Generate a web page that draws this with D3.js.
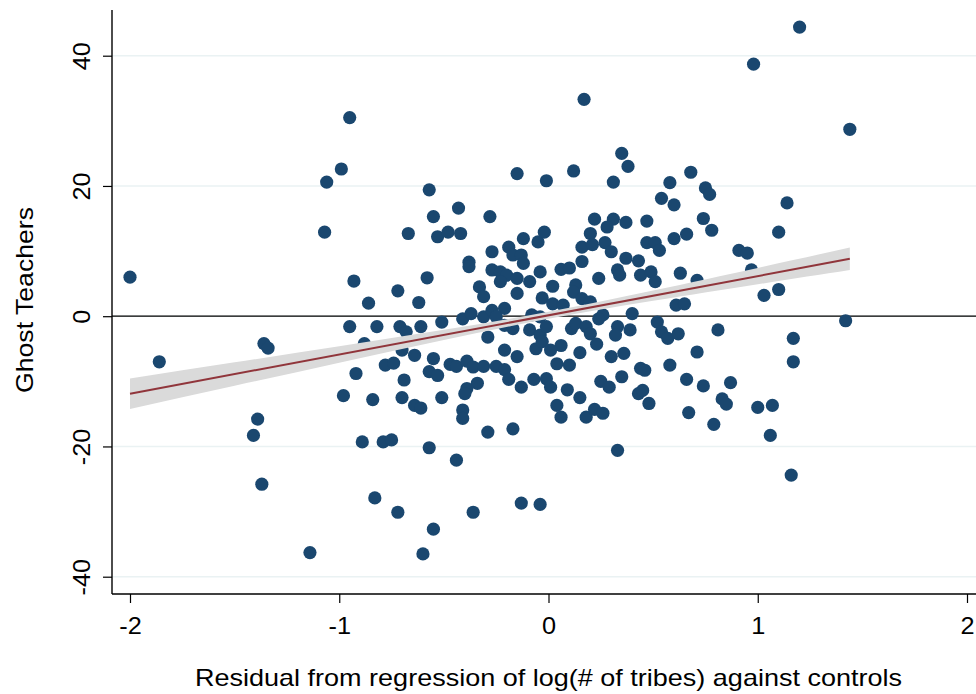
<!DOCTYPE html>
<html>
<head>
<meta charset="utf-8">
<script src="https://cdn.jsdelivr.net/npm/d3@7"></script>
<style>
  html, body { margin: 0; padding: 0; background: #fff; }
  svg { display: block; }
  text { font-family: "Liberation Sans", Arial, Helvetica, sans-serif; fill: #000; }
</style>
</head>
<body>
<svg id="chart" width="976" height="694"></svg>
<script>
// ---- data ----
const xResidual = [
  -2.00,-1.86,-1.36,-1.34,-1.39,-1.41,-1.37,-1.14,-1.06,-1.07,
  -0.95,-0.99,-0.15,-0.01,-0.57,-0.43,-0.55,-0.28,-0.67,-0.53,
  -0.48,-0.42,-0.12,-0.05,-0.02,-0.27,-0.19,-0.17,-0.13,-0.12,
  -0.38,-0.38,-0.27,-0.23,-0.20,-0.15,-0.09,-0.04,-0.93,-0.58,
  -0.33,-0.72, 0.17, 0.35, 0.38, 0.12, 0.31, 0.68, 0.58, 0.75,
   0.77, 0.54, 0.60, 0.22, 0.31, 0.28, 0.37, 0.47, 0.74, 0.78,
   0.20, 0.16, 0.21, 0.27, 0.30, 0.47, 0.51, 0.53, 0.60, 0.66,
   0.91, 0.95, 0.16, 0.06, 0.10, 0.37, 0.43, 0.33, 0.34, 0.44,
   0.49, 0.51, 0.63, 0.71, 0.97, 0.24, 0.13, 0.02, 1.44, 1.14,
   1.10, 1.10, 0.98, 1.20,-0.86,-0.62,-0.31,-0.23,-0.15,-0.03,
  -0.95,-0.82,-0.71,-0.68,-0.61,-0.51,-0.41,-0.37,-0.31,-0.27,
  -0.21,-0.25,-0.21,-0.17,-0.08,-0.09,-0.29,-0.04,-0.88,-0.70,
  -0.64,-0.55,-0.21,-0.15,-0.06,-0.78,-0.74,-0.47,-0.44,-0.39,
  -0.36,-0.31,-0.25,-0.21,-0.92,-0.57,-0.53,-0.69,-0.19,-0.07,
  -0.01,-0.34,-0.39,-0.40,-0.13,-0.98,-0.84,-0.70,-0.51,-0.64,
  -0.61,-0.41,-0.41,-0.29,-0.17,-0.89,-0.79,-0.75,-0.57,-0.44,
  -0.83,-0.72,-0.36,-0.55,-0.60,-0.13,-0.04, 0.12, 0.16, 0.20,
   0.02, 0.07, 1.03, 0.61, 0.65, 0.40, 0.26, 0.24,-0.01,-0.04,
   0.11, 0.13, 0.18, 0.20, 0.33, 0.32, 0.39, 0.52, 0.54, 0.57,
   0.62, 0.81,-0.03, 0.06, 0.01, 0.15, 0.23, 0.30, 0.36, 0.71,
   0.04, 0.10, 0.44, 0.46, 0.58, 0.01, 0.09, 0.25, 0.29, 0.35,
   0.66, 0.74, 0.87, 0.43, 0.45, 0.48, 0.15, 0.04, 0.06, 0.18,
   0.22, 0.26, 0.83, 0.85, 0.67, 1.00, 1.07, 0.79, 1.06, 0.33,
   1.42, 1.17, 1.17, 1.16
];
const ghostTeachers = [
    6.0, -7.0, -4.2, -4.9,-15.8,-18.3,-25.8,-36.3, 20.6, 12.9,
   30.5, 22.6, 21.9, 20.8, 19.4, 16.6, 15.3, 15.3, 12.7, 12.2,
   12.9, 12.7, 11.9, 11.4, 12.9,  9.9, 10.6,  9.4,  9.4,  8.1,
    8.3,  7.6,  7.1,  6.8,  6.3,  5.8,  5.3,  6.8,  5.4,  5.9,
    4.5,  3.9, 33.3, 25.0, 23.0, 22.3, 20.6, 22.1, 20.5, 19.7,
   18.7, 18.1, 17.1, 14.9, 14.9, 13.7, 14.4, 14.6, 15.0, 13.2,
   12.7, 10.6, 11.0, 11.3,  9.9, 11.3, 11.3, 10.1, 11.9, 12.6,
   10.1,  9.7,  8.4,  7.2,  7.4,  8.9,  8.5,  7.1,  6.3,  6.3,
    6.8,  5.3,  6.6,  5.5,  7.1,  5.8,  4.8,  4.6, 28.7, 17.4,
   12.9,  4.1, 38.7, 44.4,  2.0,  2.1,  3.0,  5.3,  3.5,  2.8,
   -1.6, -1.6, -1.6, -2.4, -1.6, -0.9, -0.4,  0.4, -0.1,  0.9,
    1.2, -0.1, -1.4, -1.9,  0.2, -2.1, -3.2, -2.9, -4.2, -5.2,
   -6.0, -6.5, -5.2, -6.2, -5.0, -7.5, -7.2, -7.4, -7.7, -6.9,
   -7.8, -7.7, -7.7, -8.2, -8.8, -8.5, -9.1, -9.8, -9.7, -9.7,
   -9.6,-10.3,-11.1,-11.9,-10.9,-12.2,-12.8,-12.5,-12.5,-13.7,
  -14.1,-14.4,-15.7,-17.8,-17.3,-19.3,-19.3,-19.0,-20.2,-22.1,
  -27.9,-30.1,-30.1,-32.7,-36.5,-28.7,-28.9,  3.7,  2.7,  2.2,
    1.9,  1.7,  3.2,  1.7,  1.9,  0.4,  0.2, -0.4, -1.6, -0.1,
   -1.9, -1.1, -1.6, -2.7, -1.6, -2.9, -2.1, -0.9, -2.4, -3.4,
   -2.7, -2.1, -3.9, -4.5, -5.2, -5.6, -4.3, -6.2, -5.7, -5.5,
   -7.3, -7.5, -8.0, -8.3, -7.5,-10.9,-11.3,-10.0,-10.9, -9.3,
   -9.7,-10.7,-10.2,-11.9,-11.4,-13.4,-12.5,-13.7,-15.5,-15.5,
  -14.3,-14.9,-12.7,-13.5,-14.8,-14.0,-13.7,-16.6,-18.3,-20.6,
   -0.7, -3.4, -7.0,-24.4
];
// fitted line and its confidence band
const fitX = [-2.0, 1.44];
const fitY = [-11.9, 8.81];
const ciX    = [-2.0, -1.5, -1.0, -0.5, 0.0, 0.5, 1.0, 1.44];
const ciLow  = [-14.25, -10.69, -7.14, -3.66, -0.41, 2.36, 4.90, 7.08];
const ciHigh = [-9.55, -7.09, -4.62, -2.08, 0.69, 3.94, 7.42, 10.54];
// axes
const xTicks = [-2, -1, 0, 1, 2];
const yTicks = [-40, -20, 0, 20, 40];
const xTitle = "Residual from regression of log(# of tribes) against controls";
const yTitle = "Ghost Teachers";

// ---- drawing ----
const svg = d3.select("#chart");
const W = 976, H = 694;
const plotLeft = 112, plotTop = 10, plotBottom = 594;

const x = d3.scaleLinear().domain([-2, 2]).range([130, 967]);
const y = d3.scaleLinear().domain([-40, 40]).range([576.7, 55.7]);

const navy = "#1a476f", maroon = "#90353b";
const widen = 1.1;

// gridlines
svg.append("g").selectAll("line").data(yTicks).join("line")
  .attr("x1", plotLeft).attr("x2", W)
  .attr("y1", d => y(d)).attr("y2", d => y(d))
  .attr("stroke", "#eaf2f3").attr("stroke-width", 1.6);

// zero reference line
svg.append("line")
  .attr("x1", plotLeft).attr("x2", W)
  .attr("y1", y(0)).attr("y2", y(0))
  .attr("stroke", "#000").attr("stroke-width", 1.3);

// points
const pts = xResidual.map((d, i) => [d, ghostTeachers[i]]);
svg.append("g").selectAll("circle").data(pts).join("circle")
  .attr("cx", d => x(d[0])).attr("cy", d => y(d[1]))
  .attr("r", 6.6).attr("fill", navy);

// CI band
const band = ciX.map((d, i) => [d, ciLow[i], ciHigh[i]]);
svg.append("path").datum(band)
  .attr("d", d3.area().curve(d3.curveNatural)
    .x(d => x(d[0])).y0(d => y(d[1])).y1(d => y(d[2])))
  .attr("fill", "#dadada");

// fit line
svg.append("path").datum(fitX.map((d, i) => [d, fitY[i]]))
  .attr("d", d3.line().x(d => x(d[0])).y(d => y(d[1])))
  .attr("fill", "none").attr("stroke", maroon).attr("stroke-width", 2);

// axes
const yAxis = d3.axisLeft(y).tickValues(yTicks).tickSize(9).tickFormat(d3.format("d"));
const gy = svg.append("g").attr("transform", `translate(${plotLeft},0)`).call(yAxis);
gy.select(".domain").attr("d", `M0,${plotTop}V${plotBottom}`).attr("stroke", "#000").attr("stroke-width", 1.4);
gy.selectAll(".tick line").attr("stroke", "#000").attr("stroke-width", 1.2);
gy.selectAll(".tick text")
  .attr("x", null).attr("dy", null)
  .attr("text-anchor", "middle")
  .attr("transform", "translate(-22,0) rotate(-90)")
  .style("font-size", "23px").style("font-family", '"Liberation Sans", Arial, sans-serif');

const xAxis = d3.axisBottom(x).tickValues(xTicks).tickSize(9).tickFormat(d3.format("d"));
const gx = svg.append("g").attr("transform", `translate(0,${plotBottom})`).call(xAxis);
gx.select(".domain").attr("d", `M${plotLeft},0H${W}`).attr("stroke", "#000").attr("stroke-width", 1.4);
gx.selectAll(".tick line").attr("stroke", "#000").attr("stroke-width", 1.2);
gx.selectAll(".tick text")
  .attr("y", 40).attr("dy", null)
  .style("font-size", "23px").style("font-family", '"Liberation Sans", Arial, sans-serif');

// tick label minus sign: use hyphen like the reference
gx.selectAll(".tick text").text(d => String(d));
gy.selectAll(".tick text").text(d => String(d));

// titles
svg.append("text").attr("class", "xtitle")
  .attr("x", 548.5).attr("y", 686)
  .attr("text-anchor", "middle")
  .style("font-size", "24px")
  .text(xTitle);

svg.append("text").attr("class", "ytitle")
  .attr("transform", "translate(33,300) rotate(-90)")
  .attr("text-anchor", "middle")
  .style("font-size", "24px")
  .text(yTitle);

// widen glyphs slightly to mimic the wider original face
svg.selectAll("text").each(function() {
  const len = this.getComputedTextLength();
  d3.select(this).attr("textLength", len * widen).attr("lengthAdjust", "spacingAndGlyphs");
});
svg.select(".xtitle").each(function() {
  d3.select(this).attr("textLength", 707);
});
svg.select(".ytitle").each(function() {
  d3.select(this).attr("textLength", 186);
});
</script>
</body>
</html>
